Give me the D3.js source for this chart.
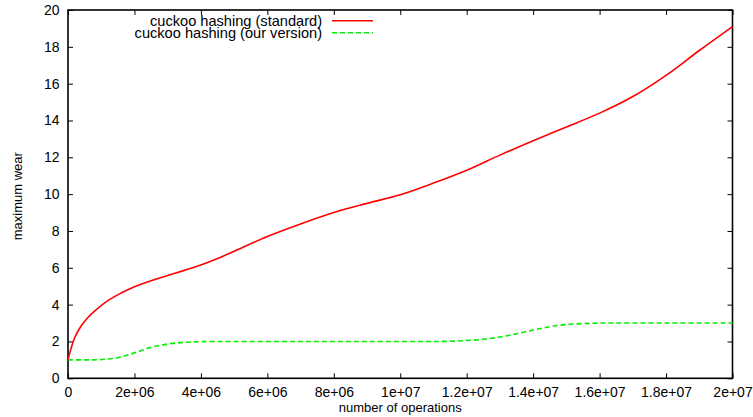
<!DOCTYPE html>
<html>
<head>
<meta charset="utf-8">
<script src="https://cdn.jsdelivr.net/npm/d3@7/dist/d3.min.js"></script>
<style>
  html, body { margin: 0; padding: 0; background: #fff; }
  svg { display: block; font-family: "Liberation Sans", Arial, Helvetica, sans-serif; }
</style>
</head>
<body>
<svg id="chart" width="753" height="417"></svg>
<script>
// ---- data ----
const redX = [0, 2e5, 4e5, 6e5, 8e5, 1.2e6, 1.6e6, 2e6, 2.5e6, 3e6, 3.5e6, 4e6, 4.5e6, 5e6, 6e6, 7e6, 8e6, 9e6, 1e7, 1.1e7, 1.2e7, 1.3e7, 1.4e7, 1.5e7, 1.6e7, 1.7e7, 1.8e7, 1.9e7, 2e7];
const redY = [1.0, 2.2, 2.85, 3.3, 3.65, 4.22, 4.63, 4.97, 5.3, 5.58, 5.86, 6.15, 6.5, 6.9, 7.7, 8.38, 9.0, 9.5, 9.97, 10.6, 11.3, 12.12, 12.9, 13.65, 14.4, 15.3, 16.45, 17.8, 19.1];
const greenX = [0, 5e5, 1e6, 1.5e6, 2e6, 2.5e6, 3e6, 3.5e6, 4e6, 5e6, 7e6, 9e6, 1.1e7, 1.15e7, 1.2e7, 1.25e7, 1.3e7, 1.35e7, 1.4e7, 1.45e7, 1.5e7, 1.55e7, 1.6e7, 1.8e7, 2e7];
const greenY = [1.0, 1.0, 1.02, 1.12, 1.38, 1.68, 1.86, 1.95, 1.99, 2.0, 2.0, 2.0, 2.0, 2.01, 2.05, 2.12, 2.24, 2.42, 2.62, 2.8, 2.92, 2.97, 3.0, 3.0, 3.0];
const seriesNames = ["cuckoo hashing (standard)", "cuckoo hashing (our version)"];
const xTicks = [0, 2e6, 4e6, 6e6, 8e6, 1e7, 1.2e7, 1.4e7, 1.6e7, 1.8e7, 2e7];
const xTickLabels = ["0", "2e+06", "4e+06", "6e+06", "8e+06", "1e+07", "1.2e+07", "1.4e+07", "1.6e+07", "1.8e+07", "2e+07"];
const yTicks = [0, 2, 4, 6, 8, 10, 12, 14, 16, 18, 20];
const xLabel = "number of operations";
const yLabel = "maximum wear";

// ---- layout ----
const svg = d3.select("#chart");
const L = 68, R = 732.5, T = 10, B = 378.3;
const x = d3.scaleLinear().domain([0, 2e7]).range([L, R]);
const y = d3.scaleLinear().domain([0, 20]).range([B, T]);
const tickLen = 5;

// axes (gnuplot-style: inward ticks, mirrored)
const fmtX = d => xTickLabels[xTicks.indexOf(d)];
const gB = svg.append("g").attr("transform", `translate(0,${B})`)
  .call(d3.axisBottom(x).tickValues(xTicks).tickFormat(fmtX).tickSizeInner(-tickLen).tickSizeOuter(0).tickPadding(9));
const gT = svg.append("g").attr("transform", `translate(0,${T})`)
  .call(d3.axisTop(x).tickValues(xTicks).tickFormat("").tickSizeInner(-tickLen).tickSizeOuter(0));
const gL = svg.append("g").attr("transform", `translate(${L},0)`)
  .call(d3.axisLeft(y).tickValues(yTicks).tickFormat(d3.format("d")).tickSizeInner(-tickLen).tickSizeOuter(0).tickPadding(9));
const gR = svg.append("g").attr("transform", `translate(${R},0)`)
  .call(d3.axisRight(y).tickValues(yTicks).tickFormat("").tickSizeInner(-tickLen).tickSizeOuter(0));

[gB, gT, gL, gR].forEach(g => {
  g.select(".domain").remove();
  g.selectAll(".tick line").attr("stroke", "#000").attr("stroke-width", 1);
  g.selectAll(".tick text").attr("fill", "#000").attr("font-size", 14).attr("font-family", "Liberation Sans, Arial, sans-serif");
});
gL.selectAll(".tick text").attr("dx", "0.5");

// border
svg.append("rect").attr("x", L).attr("y", T).attr("width", R - L).attr("height", B - T)
  .attr("fill", "none").attr("stroke", "#000").attr("stroke-width", 1.6);

// lines
const line = d3.line().x(d => x(d[0])).y(d => y(d[1])).curve(d3.curveCatmullRom.alpha(0.5));
const redData = redX.map((v, i) => [v, redY[i]]);
const greenData = greenX.map((v, i) => [v, greenY[i]]);

svg.append("path").datum(greenData).attr("d", line)
  .attr("fill", "none").attr("stroke", "#00ee00").attr("stroke-width", 1.6).attr("stroke-dasharray", "5,3");
svg.append("path").datum(redData).attr("d", line)
  .attr("fill", "none").attr("stroke", "#ff0000").attr("stroke-width", 1.6);

// legend
const legend = svg.append("g");
const legRows = [
  { name: seriesNames[0], color: "#ff0000", dash: null, cy: 20.7 },
  { name: seriesNames[1], color: "#00ee00", dash: "5,3", cy: 32.7 }
];
legRows.forEach(r => {
  legend.append("text").attr("x", 322).attr("y", r.cy).attr("dy", "0.35em")
    .attr("text-anchor", "end").attr("font-size", 14.6).attr("fill", "#000").text(r.name);
  legend.append("line").attr("x1", 332).attr("x2", 373).attr("y1", r.cy).attr("y2", r.cy)
    .attr("stroke", r.color).attr("stroke-width", 1.6).attr("stroke-dasharray", r.dash);
});

// axis labels
svg.append("text").attr("x", (L + R) / 2).attr("y", 412).attr("text-anchor", "middle")
  .attr("font-size", 13).attr("fill", "#000").text(xLabel);
svg.append("text").attr("transform", `translate(22,${(T + B) / 2 + 2}) rotate(-90)`)
  .attr("text-anchor", "middle").attr("font-size", 13).attr("fill", "#000").text(yLabel);
</script>
</body>
</html>
